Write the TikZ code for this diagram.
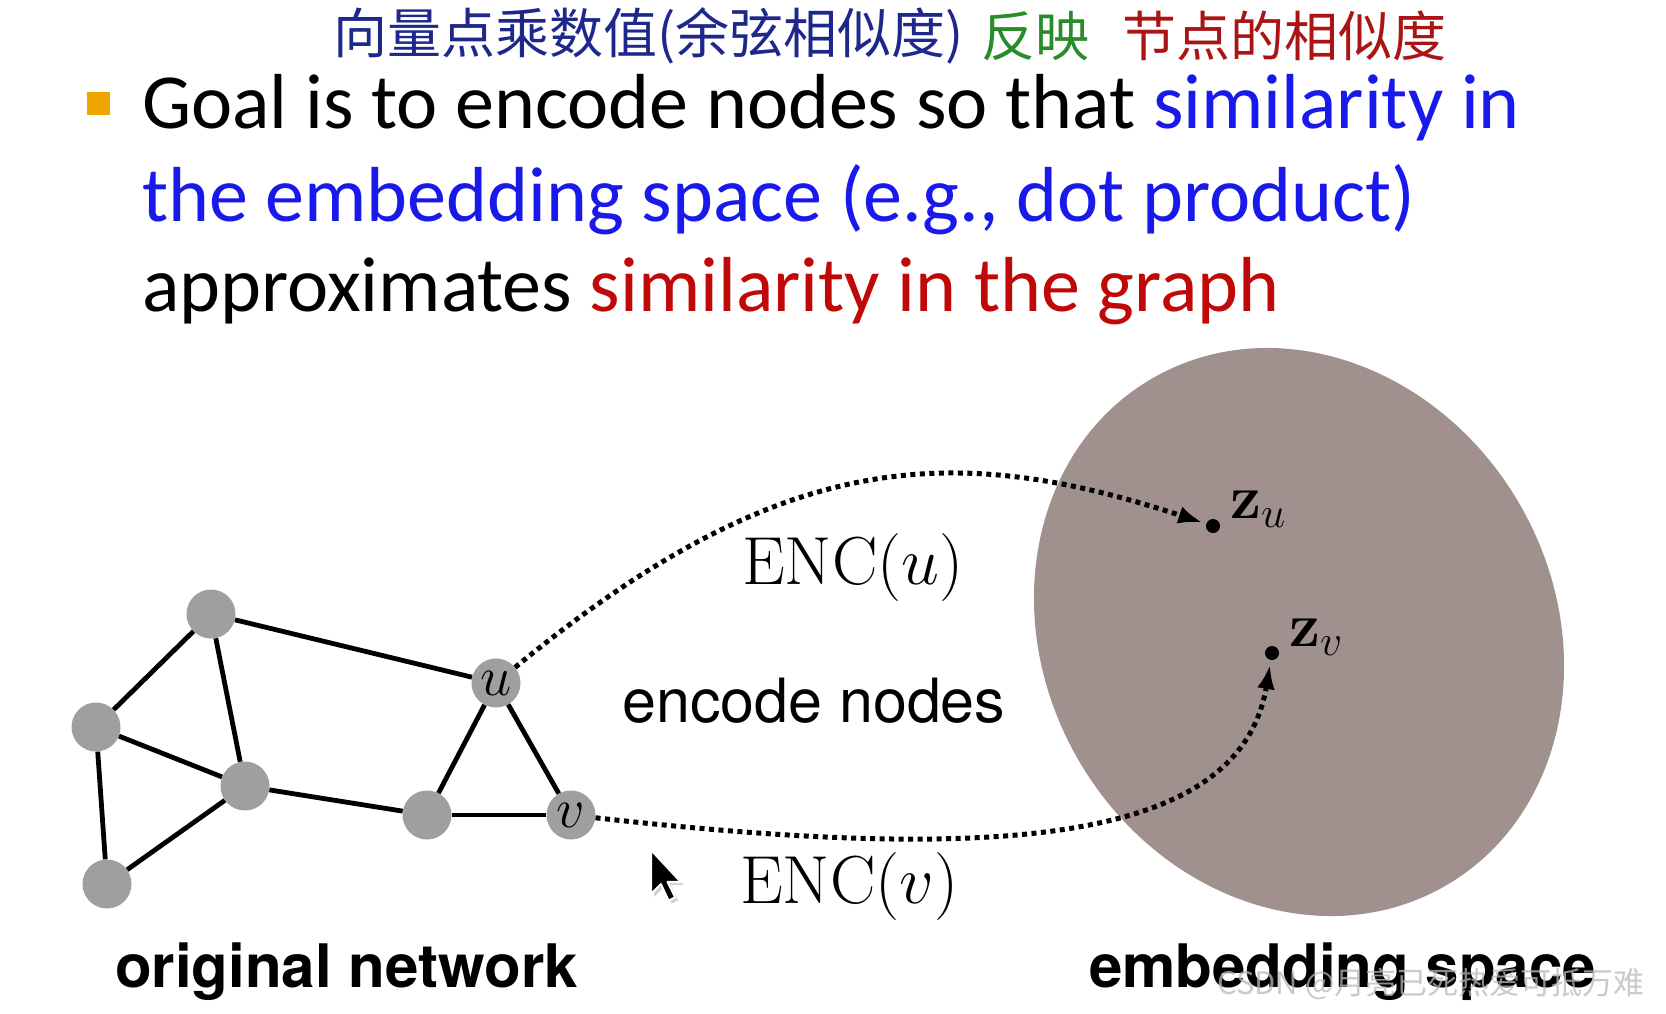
\RequirePackage{fix-cm}
\documentclass[tikz,border=0pt]{standalone}
\usepackage[no-math]{fontspec}
\setmainfont{Carlito}
\newfontfamily\helv{TeX Gyre Heros}
\newfontfamily\cjk{Noto Sans CJK SC}
\usetikzlibrary{arrows.meta}
\definecolor{nodegray}{RGB}{158,160,158}
\definecolor{embfill}{RGB}{160,145,143}
\definecolor{simblue}{RGB}{25,25,235}
\definecolor{simred}{RGB}{192,8,8}
\definecolor{bulletorange}{RGB}{240,165,0}
\definecolor{handblue}{RGB}{30,40,140}
\definecolor{handgreen}{RGB}{40,140,40}
\definecolor{handred}{RGB}{170,20,20}
\tikzset{
  gnode/.style={circle, fill=nodegray, minimum size=49pt, inner sep=0pt,
    font=\fontsize{56}{60}\selectfont},
  gedge/.style={line width=4.8pt},
  enclink/.style={line width=5pt, dash pattern=on 5pt off 4.5pt,
    -{Latex[length=24pt,width=18pt]}},
  zdot/.style={circle, fill=black, minimum size=14pt, inner sep=0pt},
  bullettext/.style={anchor=base west, inner sep=0pt, font=\fontsize{78}{94}\selectfont},
  hand/.style={anchor=west, inner sep=0pt, font=\cjk\fontsize{54}{60}\selectfont},
  caption/.style={anchor=base west, inner sep=0pt, font=\helv\bfseries\fontsize{60}{70}\selectfont},
  mathlabel/.style={anchor=base west, inner sep=0pt, font=\fontsize{68}{76}\selectfont},
  zlabel/.style={anchor=base west, inner sep=0pt, font=\fontsize{62}{70}\selectfont},
}
\begin{document}
\begin{tikzpicture}[x=1pt, y=-1pt]
\useasboundingbox (0,0) rectangle (1666,1013);
\fill[white] (0,0) rectangle (1666,1013);

% handwritten note
\node[hand, text=handblue] (h1) at (333,36) {向量点乘数值(余弦相似度)};
\node[hand, text=handgreen] (h2) at (981,36) {反映};
\node[hand, text=handred] (h3) at (1122,36) {节点的相似度};

% bullet
\fill[bulletorange] (87,92) rectangle (110,115);
\node[bullettext] (l1) at (142,128) {Goal is to encode nodes so that \textcolor{simblue}{similarity in}};
\node[bullettext, text=simblue] (l2) at (142,221) {the embedding space (e.g., dot product)};
\node[bullettext] (l3) at (142,311) {approximates \textcolor{simred}{similarity in the graph}};

% embedding space
\fill[embfill, rotate around={30:(1299,632)}] (1299,632) ellipse [x radius=255, y radius=293];

% graph
\node[gnode] (a) at (211,614) {};
\node[gnode] (b) at (96,727) {};
\node[gnode] (c) at (245,786) {};
\node[gnode] (d) at (107,884) {};
\node[gnode] (u) at (496,683) {$u$};
\node[gnode] (e) at (427,815) {};
\node[gnode] (v) at (571,815) {$v$};
\draw[gedge] (a) -- (b);
\draw[gedge] (a) -- (c);
\draw[gedge] (a) -- (u);
\draw[gedge] (b) -- (c);
\draw[gedge] (b) -- (d);
\draw[gedge] (c) -- (d);
\draw[gedge] (c) -- (e);
\draw[gedge] (u) -- (e);
\draw[gedge] (u) -- (v);
\draw[gedge] (e) -- (v);

% embedded points
\node[zdot] (zu) at (1213,526) {};
\node[zdot] (zv) at (1272,653) {};
\node[zlabel] (zul) at (1230,518) {$\mathbf{z}_u$};
\node[zlabel] (zvl) at (1289,646) {$\mathbf{z}_v$};

% encoder links
\draw[enclink, shorten >=4pt] (u) .. controls (780,450) and (950,440) .. (zu);
\draw[enclink, shorten >=5pt] (v) .. controls (998,863) and (1240,844) .. (zv);

% labels
\node[mathlabel] (encu) at (742,584) {$\mathrm{ENC}(u)$};
\node[mathlabel] (encv) at (740,903) {$\mathrm{ENC}(v)$};
\node[anchor=base west, inner sep=0pt, font=\helv\fontsize{61}{70}\selectfont] (enc) at (622,722) {encode nodes};

% captions
\node[caption] (orig) at (115,987) {original network};
\node[caption] (emb) at (1089,987) {embedding space};

% mouse cursor
\begin{scope}[shift={(654,853)}, scale=1.1]
  \fill[gray, opacity=0.35] (0,0) -- (0,40) -- (9,31) -- (16,46) -- (22,43) -- (15,29) -- (27,29) -- cycle;
\end{scope}
\begin{scope}[shift={(651,850)}, scale=1.1]
  \filldraw[fill=black, draw=white, line width=2pt, line join=round] (0,0) -- (0,40) -- (9,31) -- (16,46) -- (22,43) -- (15,29) -- (27,29) -- cycle;
\end{scope}

% watermark
\node[anchor=base west, inner sep=0pt, font=\cjk\fontsize{31}{36}\selectfont, text=gray!55, opacity=0.75] (wm) at (1217,994) {CSDN @月亮已死热爱可抵万难};
\end{tikzpicture}
\end{document}
